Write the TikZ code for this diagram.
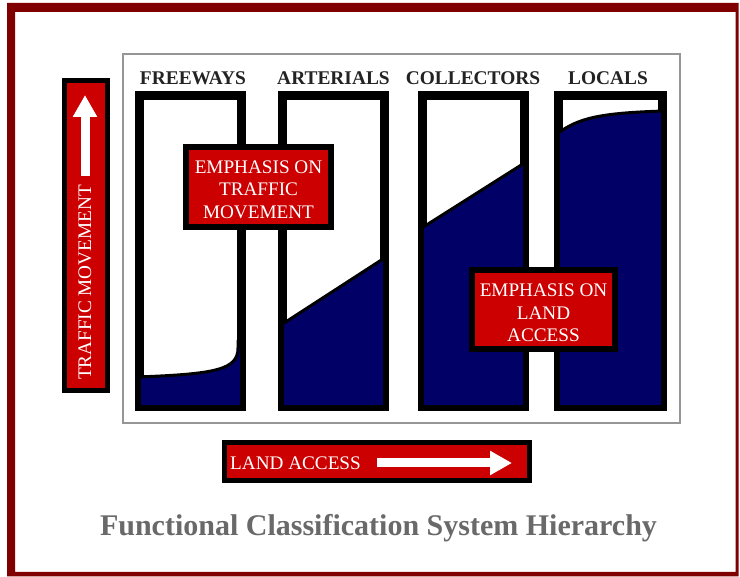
\documentclass[tikz,border=0pt]{standalone}
\usepackage{fontspec}
\setmainfont{Liberation Serif}
\usetikzlibrary{arrows.meta}
\definecolor{navyfill}{RGB}{0,0,102}
\definecolor{boxred}{RGB}{204,0,0}
\definecolor{framered}{RGB}{128,0,0}
\definecolor{titlegrey}{RGB}{105,105,105}
\definecolor{panelgrey}{RGB}{150,150,150}
\definecolor{labelblack}{RGB}{35,35,35}
\begin{document}
\begin{tikzpicture}[x=1pt,y=-1pt,
  colbox/.style={draw=black,line width=6pt,fill=white,minimum width=99pt,minimum height=308pt,inner sep=0pt},
  collabel/.style={font=\bfseries\fontsize{19.4}{22}\selectfont,text=labelblack,inner sep=0pt},
  redbox/.style={draw=black,line width=6pt,fill=boxred,inner sep=0pt},
  redtext/.style={text=white,align=center,font=\fontsize{19.2}{22.5}\selectfont,inner sep=0pt},
  whitearrow/.style={white,line width=9pt,-{Triangle[width=23pt,length=22pt]}},
  splitline/.style={black,line width=3pt},
]
\useasboundingbox (0,0) rectangle (740,577);
\fill[white] (0,0) rectangle (740,577);
% outer frame
\fill[framered,even odd rule] (7,3) rectangle (738.5,576.5) (15,12) rectangle (735.5,572);
% panel
\node[draw=panelgrey,line width=2pt,minimum width=557pt,minimum height=369pt,inner sep=0pt] (panel) at (401.5,238.5) {};
% column labels
\node[collabel] (lfw) at (193,78) {FREEWAYS};
\node[collabel] (lar) at (333.5,78) {ARTERIALS};
\node[collabel] (lco) at (473,78) {COLLECTORS};
\node[collabel] (llo) at (608,78) {LOCALS};
% columns
\node[colbox] (fw) at (190.5,251) {};
\node[colbox] (ar) at (333.5,251) {};
\node[colbox] (co) at (473.5,251) {};
\node[colbox,minimum width=101pt] (lo) at (610.5,251) {};
% freeways fill
\begin{scope}
\clip (fw.south west) rectangle (fw.north east);
\fill[navyfill] (138,377) .. controls (215,374) and (238,370) .. (238,348) -- (245,348) -- (245,410) -- (138,410) -- cycle;
\draw[splitline] (138,377) .. controls (215,374) and (238,370) .. (238,348) -- (238,340);
\end{scope}
% arterials
\begin{scope}
\clip (ar.south west) rectangle (ar.north east);
\fill[navyfill] (281,325) -- (386,257) -- (386,410) -- (281,410) -- cycle;
\draw[splitline] (281,325) -- (386,257);
\end{scope}
% collectors
\begin{scope}
\clip (co.south west) rectangle (co.north east);
\fill[navyfill] (421,228.5) -- (526,162) -- (526,410) -- (421,410) -- cycle;
\draw[splitline] (421,228.5) -- (526,162);
\end{scope}
% locals
\begin{scope}
\clip (lo.south west) rectangle (lo.north east);
\fill[navyfill] (557,134) .. controls (578,118) and (600,113) .. (664,111) -- (664,410) -- (557,410) -- cycle;
\draw[splitline] (557,134) .. controls (578,118) and (600,113) .. (664,111);
\end{scope}
% redraw column borders
\foreach \c in {fw,ar,co,lo}{
  \draw[black,line width=6pt] (\c.south west) rectangle (\c.north east);
}
% emphasis boxes
\node[redbox,minimum width=145pt,minimum height=80pt] (emtraffic) at (258.5,187) {};
\node[redtext] (emtraffictext) at (258.5,189.5) {EMPHASIS ON\\TRAFFIC\\MOVEMENT};
\node[redbox,minimum width=143pt,minimum height=79pt] (emland) at (543.5,309.5) {};
\node[redtext] (emlandtext) at (543.5,313) {EMPHASIS ON\\LAND\\ACCESS};
% traffic movement vertical box
\node[redbox,line width=5pt,minimum width=43pt,minimum height=310pt] (tmbox) at (86,235.5) {};
\node[redtext,rotate=90] (tmtext) at (85,282.5) {TRAFFIC MOVEMENT};
\coordinate (tmfrom) at (85,176);
\coordinate (tmto) at (85,95);
\draw[whitearrow] (tmfrom) -- (tmto);
% land access box
\node[redbox,line width=5pt,minimum width=305pt,minimum height=38pt] (labox) at (377,461.5) {};
\node[redtext] (latext) at (295.5,463) {LAND ACCESS};
\coordinate (lafrom) at (377,463);
\coordinate (lato) at (512,463);
\draw[whitearrow] (lafrom) -- (lato);
% title
\node[font=\bfseries\fontsize{30}{34}\selectfont,text=titlegrey,inner sep=0pt] (title) at (378.5,528) {Functional Classification System Hierarchy};
\end{tikzpicture}
\end{document}
